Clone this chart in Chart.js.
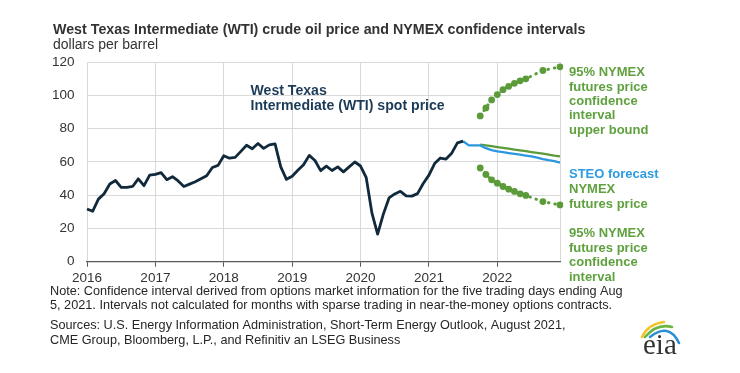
<!DOCTYPE html>
<html>
<head>
<meta charset="utf-8">
<script src="https://cdn.jsdelivr.net/npm/chart.js@4"></script>
<style>
  html, body { margin: 0; padding: 0; background: #fff; }
  #wrap { width: 740px; height: 373px; position: relative; }
</style>
</head>
<body>
<div id="wrap"><canvas id="oil" width="740" height="373"></canvas></div>
<script>
// monthly categories, Jan 2016 - Dec 2022
const months = [];
for (let y = 2016; y <= 2022; y++) {
  for (let m = 1; m <= 12; m++) months.push(y + "-" + m);
}

// WTI spot, Jan 2016 - Jul 2021
const wti = [
  31.7, 30.3, 37.6, 40.8, 46.7, 48.8, 44.7, 44.7, 45.2, 49.8, 45.7, 52.0,
  52.5, 53.5, 49.3, 51.1, 48.5, 45.2, 46.6, 48.0, 49.8, 51.6, 56.6, 57.9,
  63.7, 62.2, 62.7, 66.3, 70.0, 67.9, 71.0, 68.1, 70.2, 70.8, 57.0, 49.5,
  51.4, 55.0, 58.2, 63.9, 60.8, 54.7, 57.4, 54.8, 57.0, 54.0, 57.0, 59.9,
  57.5, 50.5, 29.2, 16.6, 28.6, 38.3, 40.7, 42.3, 39.6, 39.4, 40.9, 47.0,
  52.0, 59.0, 62.3, 61.7, 65.2, 71.4, 72.4,
];
// STEO forecast, Jul 2021 - Dec 2022
const steo = [
  72.4, 69.9, 69.9, 69.9, 68.2, 67.0, 66.3, 65.8, 65.3, 64.8, 64.3, 63.8,
  63.3, 62.5, 61.7, 61.0, 60.4, 59.5,
];
// NYMEX futures and 95% interval, Oct 2021 - Dec 2022
const futures = [70.3, 69.9, 69.4, 68.9, 68.4, 67.9, 67.4, 66.9, 66.4, 65.9, 65.4, 64.9, 64.4, 63.8, 63.3];
const upper = [87.6, 92.4, 97.2, 100.4, 103.4, 105.4, 107.2, 108.7, 109.9, null, null, 114.9, null, null, 117.1];
const lower = [56.3, 52.4, 49.2, 47.2, 45.2, 43.6, 42.2, 40.8, 39.8, null, null, 36.1, null, null, 34.1];

const yTicks = [0, 20, 40, 60, 80, 100, 120];

const pad = (n) => Array(n).fill(null);
const navy = "#10293b";
const blue = "#2b97de";
const green = "#5b9b3a";
const gridGray = "#d9d9d9";
const axisGray = "#595959";
const FONT = "'Liberation Sans', Arial, sans-serif";

const labelsPlugin = {
  id: "labels",
  afterDraw(chart) {
    const ctx = chart.ctx;
    ctx.save();
    ctx.textBaseline = "middle";
    ctx.textAlign = "left";
    const put = (txt, x, y, font, color) => {
      ctx.font = font;
      ctx.fillStyle = color;
      ctx.fillText(txt, x, y);
    };
    put("West Texas Intermediate (WTI) crude oil price and NYMEX confidence intervals", 53, 30, "bold 14.25px " + FONT, "#333333");
    put("dollars per barrel", 53, 45.5, "14px " + FONT, "#333333");

    put("West Texas", 250.5, 91, "bold 14.1px " + FONT, "#1b3a57");
    put("Intermediate (WTI) spot price", 250.5, 106.5, "bold 14.1px " + FONT, "#1b3a57");

    const gf = "bold 13px " + FONT;
    const tg = "#5fa13f";
    ["95% NYMEX", "futures price", "confidence", "interval", "upper bound"].forEach((t, i) =>
      put(t, 569, 72.7 + i * 14.4, gf, tg));
    put("STEO forecast", 569, 174, gf, "#2e9be2");
    put("NYMEX", 569, 189, gf, tg);
    put("futures price", 569, 204, gf, tg);
    ["95% NYMEX", "futures price", "confidence", "interval"].forEach((t, i) =>
      put(t, 569, 233.3 + i * 14.8, gf, tg));

    const nf = "12.7px " + FONT;
    const nc = "#262626";
    put("Note: Confidence interval derived from options market information for the five trading days ending Aug", 50, 291.7, nf, nc);
    put("5, 2021. Intervals not calculated for months with sparse trading in near-the-money options contracts.", 50, 305.3, nf, nc);
    put("Sources: U.S. Energy Information Administration, Short-Term Energy Outlook, August 2021,", 50, 325.7, nf, nc);
    put("CME Group, Bloomberg, L.P., and Refinitiv an LSEG Business", 50, 340, nf, nc);

    // eia logo swoosh
    ctx.lineCap = "round";
    ctx.lineWidth = 2.6;
    [
      ["#f2c42c", [642, 337], [648, 324], [664, 322]],
      ["#6cb33f", [645, 337], [657, 323], [672, 327]],
      ["#2a8fd4", [650, 337], [669, 322], [679, 343]],
    ].forEach(([c, a, q, b]) => {
      ctx.strokeStyle = c;
      ctx.beginPath();
      ctx.moveTo(a[0], a[1]);
      ctx.quadraticCurveTo(q[0], q[1], b[0], b[1]);
      ctx.stroke();
    });
    ctx.textBaseline = "alphabetic";
    put("eia", 643, 354, "29px 'Liberation Serif', 'DejaVu Serif', serif", "#333333");
    ctx.restore();
  },
};

new Chart(document.getElementById("oil"), {
  type: "line",
  data: {
    labels: months,
    datasets: [
      {
        label: "WTI spot price",
        data: wti.concat(pad(months.length - wti.length)),
        borderColor: navy,
        borderWidth: 2.8,
      },
      {
        label: "STEO forecast",
        data: pad(66).concat(steo),
        borderColor: blue,
        borderWidth: 2.3,
      },
      {
        label: "NYMEX futures price",
        data: pad(69).concat(futures),
        borderColor: green,
        borderWidth: 2.3,
      },
      {
        label: "95% upper bound",
        data: pad(69).concat(upper),
        borderColor: green,
        borderWidth: 3,
        borderDash: [0.5, 6],
        borderCapStyle: "round",
        spanGaps: true,
        pointRadius: (c) => (c.raw == null ? 0 : 3.4),
        pointBackgroundColor: green,
        pointBorderWidth: 0,
      },
      {
        label: "95% lower bound",
        data: pad(69).concat(lower),
        borderColor: green,
        borderWidth: 3,
        borderDash: [0.5, 6],
        borderCapStyle: "round",
        spanGaps: true,
        pointRadius: (c) => (c.raw == null ? 0 : 3.4),
        pointBackgroundColor: green,
        pointBorderWidth: 0,
      },
    ],
  },
  options: {
    responsive: false,
    animation: false,
    devicePixelRatio: 1,
    layout: { padding: { top: 62, right: 180, left: 0, bottom: 0 } },
    elements: {
      point: { radius: 0, hoverRadius: 0 },
      line: { tension: 0, borderJoinStyle: "round" },
    },
    plugins: {
      legend: { display: false },
      tooltip: { enabled: false },
    },
    scales: {
      x: {
        offset: false,
        afterFit: (s) => { s.height = 111.3; },
        grid: {
          color: (c) => (c.index % 12 === 0 || c.index === months.length - 1 ? gridGray : "rgba(0,0,0,0)"),
          tickColor: (c) => (c.index % 12 === 0 ? axisGray : "rgba(0,0,0,0)"),
          tickLength: 5,
          lineWidth: 1,
        },
        border: { color: axisGray, width: 1.2 },
        ticks: {
          autoSkip: false,
          maxRotation: 0,
          padding: 3,
          color: "#333333",
          font: { family: FONT, size: 13.5 },
          callback: (v, i) => (i % 12 === 0 ? months[i].split("-")[0] : ""),
        },
      },
      y: {
        min: 0,
        max: 120,
        afterFit: (s) => { s.width = 87; },
        afterBuildTicks: (s) => { s.ticks = yTicks.map((v) => ({ value: v })); },
        grid: { color: gridGray, drawTicks: false, lineWidth: 1 },
        border: { display: false },
        ticks: {
          padding: 12.5,
          color: "#333333",
          font: { family: FONT, size: 13.5 },
        },
      },
    },
  },
  plugins: [labelsPlugin],
});
</script>
</body>
</html>
